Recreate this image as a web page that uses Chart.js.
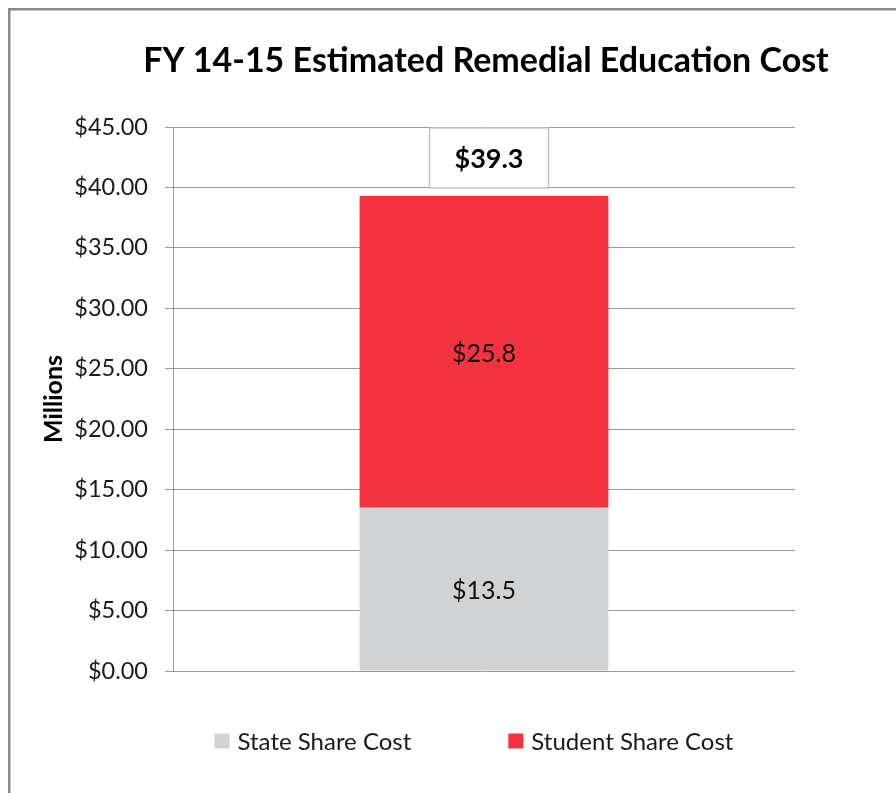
<!DOCTYPE html>
<html><head><meta charset="utf-8">
<script src="https://cdn.jsdelivr.net/npm/chart.js@4.4.1/dist/chart.umd.min.js"></script>
<style>html,body{margin:0;padding:0;background:#fff;overflow:hidden}canvas{display:block}</style>
</head><body>
<canvas id="c" width="896" height="793"></canvas>
<script>
const categories = ['FY 14-15'];
const stateShare = [13.5];
const studentShare = [25.8];
const totals = [39.3];
const seriesLabels = ['State Share Cost', 'Student Share Cost'];
const seriesColors = ['#d1d2d4', '#f5333f'];
const yTicks = [0, 5, 10, 15, 20, 25, 30, 35, 40, 45];
const titleText = 'FY 14-15 Estimated Remedial Education Cost';
const yTitle = 'Millions';

const FAM = 'Lato, "Open Sans", "Liberation Sans", sans-serif';

const framePlugin = {
  id: 'frame',
  beforeDraw(chart) {
    const ctx = chart.ctx;
    ctx.save();
    ctx.fillStyle = '#fff';
    ctx.fillRect(0, 0, chart.width, chart.height);
    ctx.strokeStyle = '#8a8a8a';
    ctx.lineWidth = 2.5;
    ctx.beginPath();
    ctx.moveTo(9.25, chart.height);
    ctx.lineTo(9.25, 9.25);
    ctx.lineTo(chart.width, 9.25);
    ctx.stroke();
    ctx.restore();
  }
};

const titlePlugin = {
  id: 'customTitle',
  afterDraw(chart) {
    const ctx = chart.ctx, a = chart.chartArea;
    ctx.save();
    ctx.font = 'bold 34px ' + FAM;
    ctx.fillStyle = '#000';
    ctx.textAlign = 'center';
    ctx.textBaseline = 'middle';
    ctx.fillText(titleText, (a.left + a.right) / 2 + 2, 61);
    ctx.restore();
  }
};

const labelPlugin = {
  id: 'barLabels',
  afterDatasetsDraw(chart) {
    const ctx = chart.ctx;
    ctx.save();
    ctx.textAlign = 'center';
    ctx.textBaseline = 'middle';
    chart.data.datasets.forEach((ds, di) => {
      const meta = chart.getDatasetMeta(di);
      meta.data.forEach((bar, i) => {
        ctx.font = '25px ' + FAM;
        ctx.fillStyle = '#111';
        ctx.fillText('$' + ds.data[i].toFixed(1), bar.x, (bar.y + bar.base) / 2 + 2);
      });
    });
    const topMeta = chart.getDatasetMeta(chart.data.datasets.length - 1);
    topMeta.data.forEach((bar, i) => {
      const txt = '$' + totals[i].toFixed(1);
      ctx.font = 'bold 27px ' + FAM;
      const w = 119, h = 60;
      const cx = bar.x + 5;
      const bottom = bar.y - 8;
      ctx.fillStyle = '#fff';
      ctx.fillRect(cx - w / 2, bottom - h, w, h);
      ctx.strokeStyle = '#c3c3c3';
      ctx.lineWidth = 1.5;
      ctx.strokeRect(cx - w / 2, bottom - h, w, h);
      ctx.fillStyle = '#000';
      ctx.fillText(txt, cx, bottom - h / 2 + 1);
    });
    ctx.restore();
  }
};

const legendPlugin = {
  id: 'customLegend',
  afterDraw(chart) {
    const ctx = chart.ctx, a = chart.chartArea;
    ctx.save();
    ctx.font = '24px ' + FAM;
    ctx.textBaseline = 'middle';
    ctx.textAlign = 'left';
    const box = 15, gap = 8, spacing = 97;
    const items = chart.data.datasets.map(ds => ({ text: ds.label, color: ds.backgroundColor, w: box + gap + ctx.measureText(ds.label).width }));
    const total = items.reduce((s, it) => s + it.w, 0) + spacing * (items.length - 1);
    let x = (a.left + a.right) / 2 - 10 - total / 2;
    const y = 741;
    items.forEach(it => {
      ctx.fillStyle = it.color;
      ctx.fillRect(x, y - box / 2, box, box);
      ctx.fillStyle = '#1a1a1a';
      ctx.fillText(it.text, x + box + gap, y + 1);
      x += it.w + spacing;
    });
    ctx.restore();
  }
};

new Chart(document.getElementById('c'), {
  type: 'bar',
  data: {
    labels: categories,
    datasets: [
      { label: seriesLabels[0], data: stateShare, backgroundColor: seriesColors[0], stack: 's' },
      { label: seriesLabels[1], data: studentShare, backgroundColor: seriesColors[1], stack: 's' }
    ]
  },
  options: {
    responsive: false,
    animation: false,
    devicePixelRatio: 1,
    layout: { padding: { top: 127, right: 101, bottom: 122, left: 0 } },
    datasets: { bar: { categoryPercentage: 1, barPercentage: 0.4 } },
    plugins: { legend: { display: false }, title: { display: false }, tooltip: { enabled: false } },
    scales: {
      x: { display: false, stacked: true },
      y: {
        stacked: true,
        min: 0,
        max: 45,
        afterBuildTicks(s) { s.ticks = yTicks.map(v => ({ value: v })); },
        afterFit(s) { s.width = 173; },
        ticks: { padding: 17, color: '#1a1a1a', font: { family: FAM, size: 23.5 }, callback: v => '$' + Number(v).toFixed(2) },
        grid: { color: '#9a9a9a', lineWidth: 1, tickLength: 8 },
        border: { color: '#9a9a9a', width: 1 },
        title: { display: true, text: yTitle, color: '#000', font: { family: FAM, size: 25, weight: 'bold' }, padding: { top: 39, bottom: 0 } }
      }
    }
  },
  plugins: [framePlugin, labelPlugin, titlePlugin, legendPlugin]
});
</script>
</body></html>
